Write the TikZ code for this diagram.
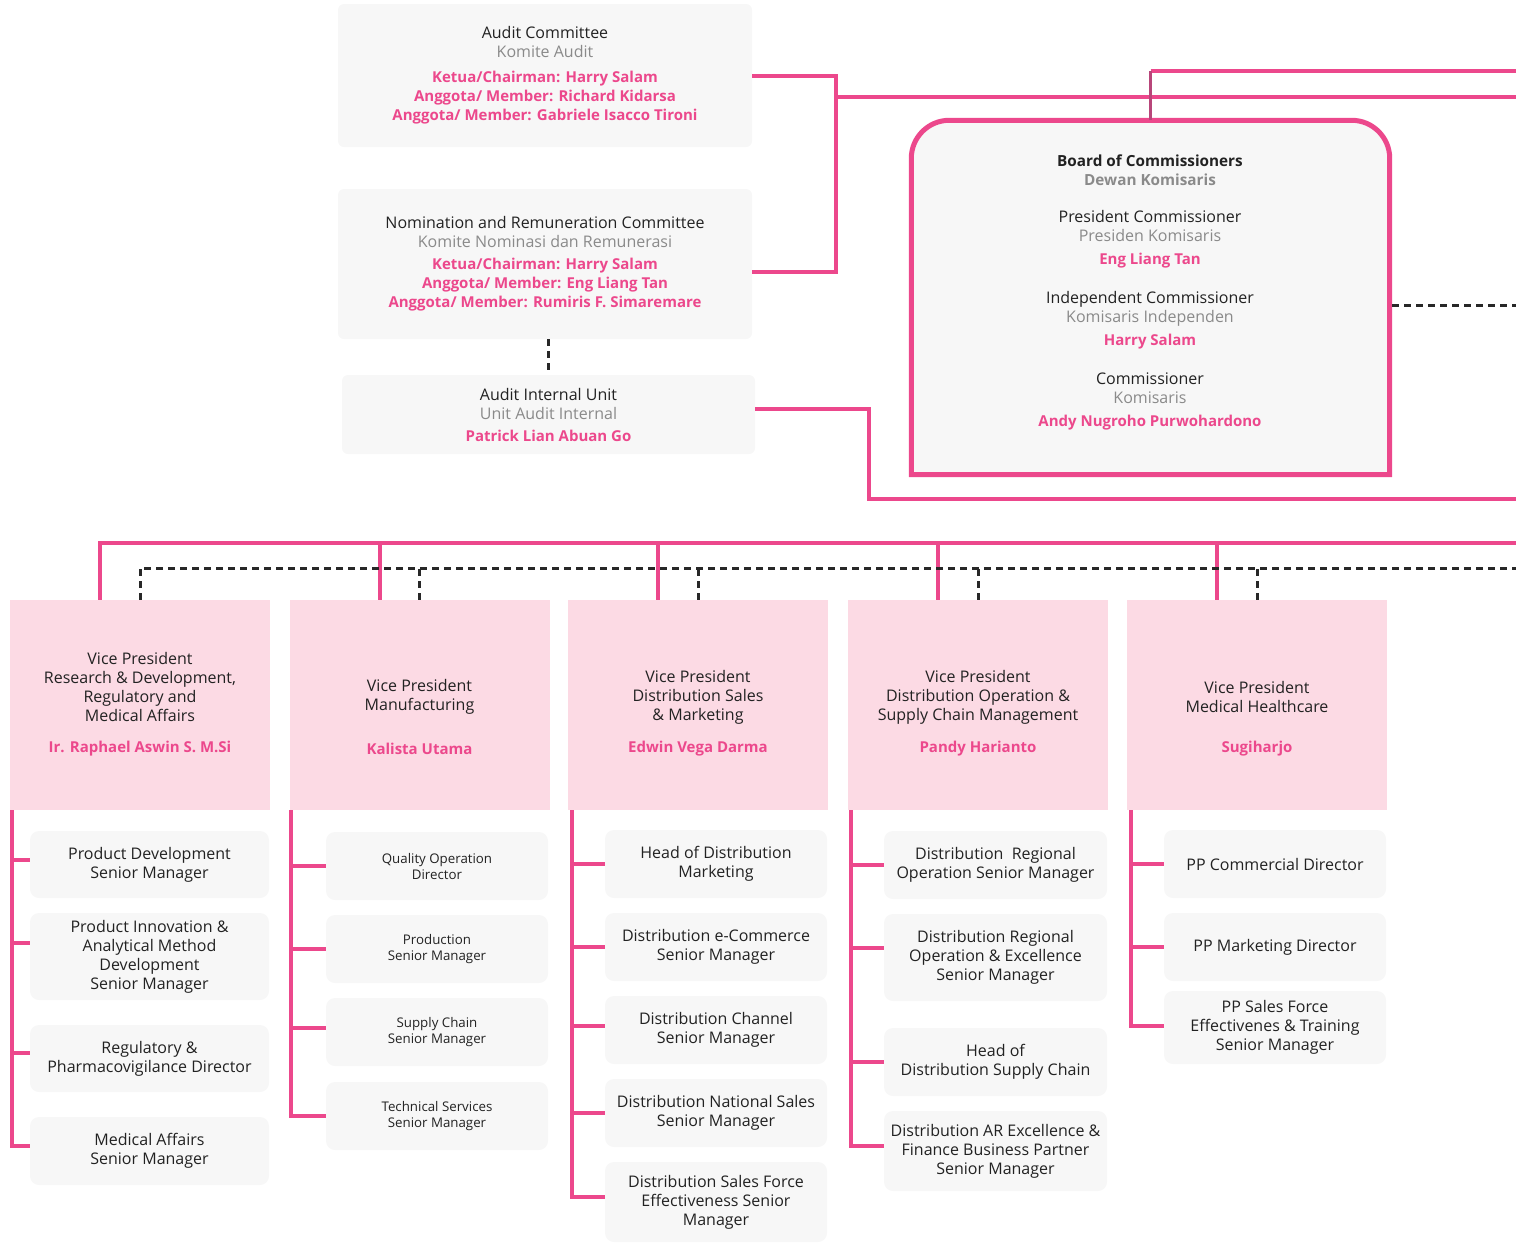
\documentclass[tikz,border=0pt]{standalone}
\usepackage{fontspec}
\setmainfont{Open Sans}
\usetikzlibrary{positioning,calc}
\definecolor{kfpink}{RGB}{236,72,140}
\definecolor{kfdark}{RGB}{184,70,122}
\definecolor{kfrose}{RGB}{252,218,228}
\definecolor{kfgray}{RGB}{247,247,247}
\definecolor{kftext}{RGB}{34,34,34}
\definecolor{kfsub}{RGB}{138,138,138}
\definecolor{kfdash}{RGB}{40,40,40}
\newcommand{\kfsub}[1]{\textcolor{kfsub}{#1}}
\newcommand{\kfname}[1]{\textcolor{kfpink}{\fontsize{15}{19}\selectfont\bfseries #1}}

\begin{document}
\begin{tikzpicture}[x=1pt,y=-1pt,align=center,text=kftext,font=\fontsize{16}{19}\selectfont]
\tikzstyle{panel}=[fill=kfgray,rounded corners=6pt,inner sep=0pt]
\tikzstyle{vpbox}=[fill=kfrose,inner sep=0pt,minimum width=260,minimum height=210]
\tikzstyle{unit}=[fill=kfgray,rounded corners=9pt,inner sep=0pt,minimum width=222,minimum height=68]
\tikzstyle{small unit}=[unit,font=\fontsize{13.3}{16}\selectfont]
\tikzstyle{link}=[draw=kfpink,line width=4pt]
\tikzstyle{dotlink}=[draw=kfdash,line width=3pt,dash pattern=on 7pt off 5pt]

\useasboundingbox (0,0) rectangle (1516,1243);

% committees
\node[panel,minimum width=414,minimum height=143] (ac) at (545,75.5) {Audit Committee\\ \kfsub{Komite Audit}\\[6pt]
  \kfname{Ketua/Chairman: Harry Salam}\\ \kfname{Anggota/ Member: Richard Kidarsa}\\ \kfname{Anggota/ Member: Gabriele Isacco Tironi}};
\node[panel,minimum width=414,minimum height=150] (nrc) at (545,264) {Nomination and Remuneration Committee\\ \kfsub{Komite Nominasi dan Remunerasi}\\[3pt]
  \kfname{Ketua/Chairman: Harry Salam}\\ \kfname{Anggota/ Member: Eng Liang Tan}\\ \kfname{Anggota/ Member: Rumiris F. Simaremare}};
\node[panel,minimum width=413,minimum height=79] (aiu) at (548.5,414.5) {Audit Internal Unit\\ \kfsub{Unit Audit Internal}\\[3pt] \kfname{Patrick Lian Abuan Go}};

% board
\node[inner sep=0pt,minimum width=478,minimum height=354] (board) at (1150.5,297.5) {};
\draw[draw=kfpink,fill=kfgray,line width=5pt] (board.south west) -- ([yshift=-38pt]board.north west)
  arc[start angle=180,end angle=90,radius=38pt] -- ([xshift=-38pt]board.north east)
  arc[start angle=90,end angle=0,radius=38pt] -- (board.south east) -- cycle;
\node (boardtxt) at (1150,292) {{\fontsize{15.3}{19}\selectfont\bfseries Board of Commissioners}\\ \kfsub{\fontsize{15.3}{19}\selectfont\bfseries Dewan Komisaris}\\[18pt]
  President Commissioner\\ \kfsub{Presiden Komisaris}\\[4pt] \kfname{Eng Liang Tan}\\[20pt]
  Independent Commissioner\\ \kfsub{Komisaris Independen}\\[4pt] \kfname{Harry Salam}\\[20pt]
  Commissioner\\ \kfsub{Komisaris}\\[4pt] \kfname{Andy Nugroho Purwohardono}};

\coordinate (e71) at (1516,71);
\coordinate (e97) at (1516,97);
\coordinate (e305) at (1516,305);
\coordinate (e499) at (1516,499);
\coordinate (jct) at (836,97);
\coordinate (turn) at (869,499);

\draw[link] (ac.east) -| (jct) |- ([yshift=-8pt]nrc.east);
\draw[link] (jct) -- (e97);
\draw[link] (board.north |- e71) -- (e71);
\draw[link,draw=kfdark,line width=3pt] (board.north) -- (board.north |- e71);
\draw[link] ([yshift=5.5pt]aiu.east) -| (turn) -- (e499);
\draw[dotlink] (aiu.north |- nrc.south) -- (aiu.north);
\draw[dotlink] ([xshift=2.5pt]board.east |- e305) -- (e305);

% vice presidents
\node[vpbox] (vp1) at (140,705) {};
\node[vpbox] (vp2) at (419.5,705) {};
\node[vpbox] (vp3) at (698,705) {};
\node[vpbox] (vp4) at (978,705) {};
\node[vpbox] (vp5) at (1257,705) {};

\node (vp1t) at ([yshift=18.5pt]vp1.center) {Vice President\\Research \& Development,\\Regulatory and\\Medical Affairs};
\node (vp2t) at ([yshift=8pt]vp2.center) {Vice President\\Manufacturing};
\node (vp3t) at ([yshift=8pt]vp3.center) {Vice President\\Distribution Sales\\\& Marketing};
\node (vp4t) at ([yshift=8pt]vp4.center) {Vice President\\Distribution Operation \&\\Supply Chain Management};
\node (vp5t) at ([yshift=8pt]vp5.center) {Vice President\\Medical Healthcare};

\node (vp1n) at ([yshift=-44pt]vp1.center) {\kfname{Ir. Raphael Aswin S. M.Si}};
\node (vp2n) at ([yshift=-44pt]vp2.center) {\kfname{Kalista Utama}};
\node (vp3n) at ([yshift=-44pt]vp3.center) {\kfname{Edwin Vega Darma}};
\node (vp4n) at ([yshift=-44pt]vp4.center) {\kfname{Pandy Harianto}};
\node (vp5n) at ([yshift=-44pt]vp5.center) {\kfname{Sugiharjo}};

\coordinate (bus) at (1516,543);
\coordinate (dbus) at (1516,568);

\draw[link] ([xshift=-40pt]vp1.north) |- (bus);
\draw[link] ([xshift=-40pt]vp2.north) -- ([xshift=-40pt]vp2.north |- bus);
\draw[link] ([xshift=-40pt]vp3.north) -- ([xshift=-40pt]vp3.north |- bus);
\draw[link] ([xshift=-40pt]vp4.north) -- ([xshift=-40pt]vp4.north |- bus);
\draw[link] ([xshift=-40pt]vp5.north) -- ([xshift=-40pt]vp5.north |- bus);

\draw[dotlink] (vp1.north) |- (dbus);
\draw[dotlink] (vp2.north) -- (vp2.north |- dbus);
\draw[dotlink] (vp3.north) -- (vp3.north |- dbus);
\draw[dotlink] (vp4.north) -- (vp4.north |- dbus);
\draw[dotlink] (vp5.north) -- (vp5.north |- dbus);

% research & development
\node[unit,minimum width=239,minimum height=67] (rd1) at (149.5,864.5) {Product Development\\Senior Manager};
\node[unit,minimum width=239,minimum height=87] (rd2) at (149.5,956.5) {Product Innovation \&\\Analytical Method\\Development\\Senior Manager};
\node[unit,minimum width=239,minimum height=67] (rd3) at (149.5,1058.5) {Regulatory \&\\Pharmacovigilance Director};
\node[unit,minimum width=239] (rd4) at (149.5,1151) {Medical Affairs\\Senior Manager};

\draw[link] ([xshift=2pt]vp1.south west) |- ([yshift=5pt]rd4.west);
\draw[link] ([yshift=4.5pt]rd1.west) -- +(-18,0);
\draw[link] ([yshift=13.5pt]rd2.west) -- +(-18,0);
\draw[link] ([yshift=5.5pt]rd3.west) -- +(-18,0);

% manufacturing
\node[small unit] (mf1) at (437,866) {Quality Operation\\Director};
\node[small unit] (mf2) at (437,949) {Production\\Senior Manager};
\node[small unit] (mf3) at (437,1032) {Supply Chain\\Senior Manager};
\node[small unit] (mf4) at (437,1116) {Technical Services\\Senior Manager};

\draw[link] ([xshift=2pt]vp2.south west) |- (mf4.west);
\draw[link] (mf1.west) -- +(-34,0);
\draw[link] (mf2.west) -- +(-34,0);
\draw[link] ([yshift=4pt]mf3.west) -- +(-34,0);

% distribution sales
\node[unit] (ds1) at (716,864) {Head of Distribution\\Marketing};
\node[unit] (ds2) at (716,947) {Distribution e-Commerce\\Senior Manager};
\node[unit] (ds3) at (716,1030) {Distribution Channel\\Senior Manager};
\node[unit] (ds4) at (716,1113) {Distribution National Sales\\Senior Manager};
\node[unit,minimum height=80] (ds5) at (716,1202) {Distribution Sales Force\\Effectiveness Senior\\Manager};

\draw[link] ([xshift=4pt]vp3.south west) |- ([yshift=5pt]ds5.west);
\draw[link] (ds1.west) -- +(-33,0);
\draw[link] (ds2.west) -- +(-33,0);
\draw[link] ([yshift=4pt]ds3.west) -- +(-33,0);
\draw[link] (ds4.west) -- +(-33,0);

% distribution operation
\node[unit,minimum width=223] (op1) at (995.5,865) {Distribution~ Regional\\Operation Senior Manager};
\node[unit,minimum width=223,minimum height=87] (op2) at (995.5,957.5) {Distribution Regional\\Operation \& Excellence\\Senior Manager};
\node[unit,minimum width=223] (op3) at (995.5,1062) {Head of\\Distribution Supply Chain};
\node[unit,minimum width=223,minimum height=80] (op4) at (995.5,1151) {Distribution AR Excellence \&\\Finance Business Partner\\Senior Manager};

\draw[link] ([xshift=3pt]vp4.south west) |- ([yshift=5pt]op4.west);
\draw[link] (op1.west) -- +(-33,0);
\draw[link] ([yshift=10pt]op2.west) -- +(-33,0);
\draw[link] (op3.west) -- +(-33,0);

% medical healthcare
\node[unit] (mh1) at (1275,864) {PP Commercial Director};
\node[unit] (mh2) at (1275,947) {PP Marketing Director};
\node[unit,minimum height=73] (mh3) at (1275,1027.5) {PP Sales Force\\Effectivenes \& Training\\Senior Manager};

\draw[link] ([xshift=4pt]vp5.south west) |- ([yshift=2pt]mh3.west);
\draw[link] (mh1.west) -- +(-33,0);
\draw[link] (mh2.west) -- +(-33,0);
\end{tikzpicture}
\end{document}
